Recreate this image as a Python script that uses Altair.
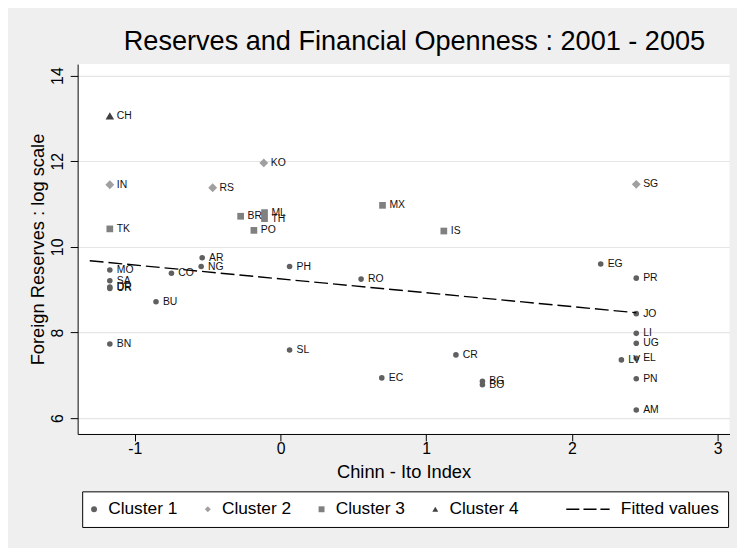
import altair as alt
import pandas as pd

FONT = "Liberation Sans, Arial, Helvetica, sans-serif"

# ---- data ----
codes = ["MO", "SA", "DR", "UR", "CO", "AR", "NG", "PH", "BU", "BN", "SL", "RO",
         "CR", "EC", "BG", "BO", "EG", "PR", "JO", "LI", "UG", "LV", "EL", "PN", "AM",
         "KO", "IN", "RS", "SG",
         "BR", "ML", "TH", "TK", "PO", "MX", "IS",
         "CH"]
chinn_ito = [-1.172, -1.172, -1.172, -1.172, -0.749, -0.538, -0.545, 0.062, -0.855, -1.172, 0.062, 0.553,
             1.204, 0.695, 1.386, 1.386, 2.198, 2.442, 2.442, 2.442, 2.442, 2.340, 2.442, 2.442, 2.442,
             -0.115, -1.172, -0.466, 2.442,
             -0.274, -0.110, -0.110, -1.172, -0.183, 0.700, 1.121,
             -1.172]
log_reserves = [9.46, 9.21, 9.06, 9.03, 9.385, 9.745, 9.54, 9.54, 8.72, 7.73, 7.59, 9.247,
                7.477, 6.94, 6.86, 6.78, 9.60, 9.27, 8.44, 7.98, 7.75, 7.36, 7.40, 6.92, 6.19,
                11.96, 11.45, 11.38, 11.46,
                10.715, 10.80, 10.66, 10.42, 10.385, 10.97, 10.37,
                13.06]
clusters = ["Cluster 1"] * 25 + ["Cluster 2"] * 4 + ["Cluster 3"] * 7 + ["Cluster 4"]

fit_x = [-1.31, 2.442]
fit_y = [9.676, 8.462]

cluster_names = ["Cluster 1", "Cluster 2", "Cluster 3", "Cluster 4"]
# zero-width space + no-break spaces leave room for the dashed key before the label
fitted_name = "\u200b" + "\u00a0" * 12 + "Fitted values"
legend_domain = cluster_names + [fitted_name]

x_ticks = [-1, 0, 1, 2, 3]
y_ticks = [6, 8, 10, 12, 14]

# ---- styles ----
dash_path = "M-1,0M5.8,0H10.2M11.6,0H16M17.3,0H20.4"
marker_shapes = ["circle", "diamond", "square", "triangle-up", dash_path]
marker_colors = ["#606060", "#a0a0a0", "#808080", "#404040", "#000000"]
marker_strokes = ["transparent", "transparent", "transparent", "transparent", "#000000"]
marker_size_by_cluster = {"Cluster 1": 32, "Cluster 2": 80, "Cluster 3": 46, "Cluster 4": 75}

df = pd.DataFrame({"code": codes, "x": chinn_ito, "y": log_reserves, "cluster": clusters})
df["msize"] = df["cluster"].map(marker_size_by_cluster)
fit_df = pd.DataFrame({"x": fit_x, "y": fit_y})

x_enc = alt.X(
    "x:Q",
    scale=alt.Scale(domain=[-1.393, 3.082], nice=False, zero=False),
    axis=alt.Axis(
        values=x_ticks, grid=False, tickSize=7, labelPadding=0,
        labelExpr="'' + datum.value", labelFontSize=16, labelFlush=False,
        title="Chinn - Ito Index", titleFontSize=18.5, titleFontWeight="normal",
        titleBaseline="alphabetic", titleY=43.5,
    ),
)
y_enc = alt.Y(
    "y:Q",
    scale=alt.Scale(domain=[5.63, 14.27], nice=False, zero=False),
    axis=alt.Axis(
        values=y_ticks, grid=True, gridColor="#e6e6e6", gridWidth=1.2,
        tickSize=7.5, labelPadding=8, labelAngle=270, labelAlign="center",
        labelBaseline="alphabetic", labelFontSize=16, labelFlush=False,
        labelExpr="'' + datum.value",
        title="Foreign Reserves : log scale", titleFontSize=18.5, titleFontWeight="normal",
        titleAngle=270, titleBaseline="alphabetic", titleX=-34.4,
    ),
)

legend = alt.Legend(
    title=None, orient="none", legendX=4.6, legendY=432,
    direction="horizontal", columns=5,
    fillColor="white", strokeColor="black", padding=9,
    labelFontSize=17.5, labelFont=FONT, labelColor="black", labelLimit=300,
    symbolOffset=-5.75, labelOffset=5.5, columnPadding=24,
    symbolSize=36, symbolStrokeWidth=1.5,
)

points = alt.Chart(df).mark_point(filled=True, opacity=1, strokeWidth=0).encode(
    x=x_enc,
    y=y_enc,
    color=alt.Color("cluster:N", scale=alt.Scale(domain=legend_domain, range=marker_colors), legend=legend),
    shape=alt.Shape("cluster:N", scale=alt.Scale(domain=legend_domain, range=marker_shapes), legend=legend),
    stroke=alt.Stroke("cluster:N", scale=alt.Scale(domain=legend_domain, range=marker_strokes), legend=legend),
    size=alt.Size("msize:Q", scale=None, legend=None),
)

fit_line = alt.Chart(fit_df).mark_line(color="black", strokeDash=[14, 5], strokeWidth=1.4).encode(
    x=x_enc, y=y_enc
)

labels = alt.Chart(df).mark_text(
    align="left", baseline="middle", dx=7, fontSize=10.5, font=FONT, color="#111111"
).encode(x=x_enc, y=y_enc, text="code:N")

chart = alt.layer(points, fit_line, labels).properties(
    width=659,
    height=374,
    background="#efefef",
    padding={"left": 70.4, "top": 53.7, "right": 7.6, "bottom": 111.9},
    autosize=alt.AutoSizeParams(type="none"),
    title=alt.TitleParams(
        "Reserves and Financial Openness : 2001 - 2005",
        fontSize=27.4, font=FONT, fontWeight="normal", color="black",
        anchor="middle", frame="group", baseline="alphabetic", offset=10, dx=11, dy=23,
    ),
).configure_view(fill="white", stroke=None).configure_axis(
    labelFont=FONT, titleFont=FONT, labelColor="black", titleColor="black",
    domainColor="black", tickColor="black", domainWidth=1, tickWidth=1,
)

chart.save("out.html", embed_options={"renderer": "svg", "actions": False})
